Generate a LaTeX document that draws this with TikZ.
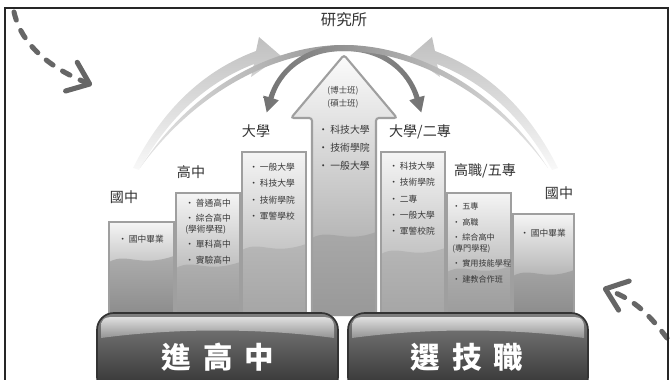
\documentclass[tikz,border=0pt]{standalone}
\usepackage{fontspec}
\setmainfont{Noto Sans CJK TC}
\usetikzlibrary{arrows.meta}

\tikzset{
  colbox/.style={draw=gray!75, line width=1.5pt},
  stage/.style={inner sep=0pt, text=black!80, font=\fontsize{10}{12}\selectfont},
  item/.style={anchor=north west, inner sep=0pt, align=left, text=black!78, font=\fontsize{6.2}{11}\selectfont},
  banner/.style={rounded corners=12pt, draw=black!80, line width=1.2pt, top color=black!50, bottom color=black!82},
  shine/.style={top color=gray!25, bottom color=gray!85},
  bannertext/.style={inner sep=0pt, text=white, font=\fontsize{21}{24}\selectfont\bfseries},
  dasharrow/.style={draw=black!60, line width=3.6pt, line cap=round, dash pattern=on 6pt off 8pt, -{Straight Barb[length=14pt,width=22pt,round]}},
}

\begin{document}
\begin{tikzpicture}[x=0.025cm, y=-0.025cm]
  \useasboundingbox (0,0) rectangle (671,380);

  % wide light arrows
  \shade[bottom color=gray!5, top color=gray!50] (133,168) .. controls (163,108) and (205,70) .. (256,51) -- (259,37) -- (281,56) -- (251,77) -- (254,64) .. controls (208,82) and (170,115) .. (139,170) -- cycle;
  \shade[bottom color=gray!5, top color=gray!50] (558,168) .. controls (528,108) and (486,70) .. (435,51) -- (432,37) -- (410,56) -- (440,77) -- (437,64) .. controls (483,82) and (521,115) .. (552,170) -- cycle;

  % dark arcs over the top
  \shade[left color=gray!20, middle color=black!45, right color=black!55] (140,168) .. controls (190,90) and (270,45) .. (344,45) .. controls (385,45) and (411,70) .. (419.5,97) -- (424.7,95.7) -- (421.3,112.4) -- (409.3,100.3) -- (414.5,98.5) .. controls (407,73) and (383,51) .. (344,51) .. controls (272,51) and (194,94) .. (140,168) -- cycle;
  \shade[left color=black!55, middle color=black!45, right color=gray!20] (548,168) .. controls (498,90) and (418,45) .. (344,45) .. controls (303,45) and (277,70) .. (268.5,97) -- (263.3,95.7) -- (266.7,112.4) -- (278.7,100.3) -- (273.5,98.5) .. controls (281,73) and (305,51) .. (344,51) .. controls (416,51) and (494,94) .. (548,168) -- cycle;

  % columns
  \foreach \xa/\ya/\xb/\yw/\cb in {109/222/174/262/black!45, 176/193/240/268/gray!78, 242/152/306/250/gray!70, 381/152/445/254/gray!70, 447/193/511/272/gray!78, 513/214/574/276/black!45} {
    \shade[top color=gray!8, bottom color=\cb] (\xa,\ya) rectangle (\xb,316);
    \fill[fill=\cb, opacity=0.5] (\xa,\yw) .. controls (\xa+18,\yw-10) and (\xa+30,\yw+6) .. (\xb,\yw-6) -- (\xb,316) -- (\xa,316) -- cycle;
    \draw[colbox] (\xa,\ya) rectangle (\xb,316);
  }

  % center arrow
  \shade[top color=gray!3, bottom color=gray!80, rounded corners=2pt] (312,316) -- (312,118) -- (291,118) -- (344,55) -- (397,118) -- (376,118) -- (376,316) -- cycle;
  \fill[fill=gray!80, opacity=0.5] (312,238) .. controls (330,228) and (345,244) .. (376,232) -- (376,316) -- (312,316) -- cycle;
  \draw[colbox, rounded corners=2pt] (312,316) -- (312,118) -- (291,118) -- (344,55) -- (397,118) -- (376,118) -- (376,316);

  % stage labels
  \node[stage, font=\fontsize{11}{13}\selectfont] (grad) at (344,20) {研究所};
  \node[stage] (jhL) at (124,197) {國中};
  \node[stage] (shL) at (191,172) {高中};
  \node[stage] (uniL) at (256,131) {大學};
  \node[stage] (uniR) at (420,132) {大學/二專};
  \node[stage] (vocR) at (485,171) {高職/五專};
  \node[stage] (jhR) at (559,193) {國中};

  % items
  \node[item] (jhLlist) at (118,234.5) {· 國中畢業};
  \node[item] (shLlist) at (185,198.5) {· 普通高中\\· 綜合高中\\[-3.5pt](學術學程)\\· 單科高中\\· 實驗高中};
  \node[item, font=\fontsize{6.2}{11.7}\selectfont] (uniLlist) at (249,162.5) {· 一般大學\\· 科技大學\\· 技術學院\\· 軍警學校};
  \node[inner sep=0pt, align=center, text=black!75, font=\fontsize{6}{9.2}\selectfont] (gradlist) at (343,97.5) {(博士班)\\(碩士班)};
  \node[item, font=\fontsize{7}{12.8}\selectfont] (midlist) at (318,125) {· 科技大學\\· 技術學院\\· 一般大學};
  \node[item, font=\fontsize{6.2}{11.7}\selectfont] (uniRlist) at (389,161.5) {· 科技大學\\· 技術學院\\· 二專\\· 一般大學\\· 軍警校院};
  \node[item, font=\fontsize{5.8}{11}\selectfont] (vocRlist) at (452,202.5) {· 五專\\· 高職\\· 綜合高中\\[-3.5pt](專門學程)\\· 實用技能學程\\· 建教合作班};
  \node[item] (jhRlist) at (520,228.5) {· 國中畢業};

  % banners
  \shade[banner] (97,313) rectangle (338,394);
  \shade[shine] (101,338) -- (101,328) .. controls (101,319) and (104,317) .. (114,317) -- (321,317) .. controls (331,317) and (334,319) .. (334,328) -- (334,338) .. controls (260,328) and (175,328) .. (101,338) -- cycle;
  \node[bannertext] (gohigh) at (218,357) {進\hspace{0.4em}高\hspace{0.4em}中};
  \shade[banner] (348,313) rectangle (588,394);
  \shade[shine] (352,338) -- (352,328) .. controls (352,319) and (355,317) .. (365,317) -- (571,317) .. controls (581,317) and (584,319) .. (584,328) -- (584,338) .. controls (510,328) and (426,328) .. (352,338) -- cycle;
  \node[bannertext] (govoc) at (467,357) {選\hspace{0.4em}技\hspace{0.4em}職};

  % dashed arrows
  \draw[dasharrow] (14,12) .. controls (22,48) and (55,70) .. (92,85);
  \draw[dasharrow] (667,338) .. controls (650,316) and (636,300) .. (603,288);

  % frame
  \draw[black!85, line width=1.8pt] (5,380) -- (5,8) -- (668,8) -- (668,380);
\end{tikzpicture}
\end{document}
